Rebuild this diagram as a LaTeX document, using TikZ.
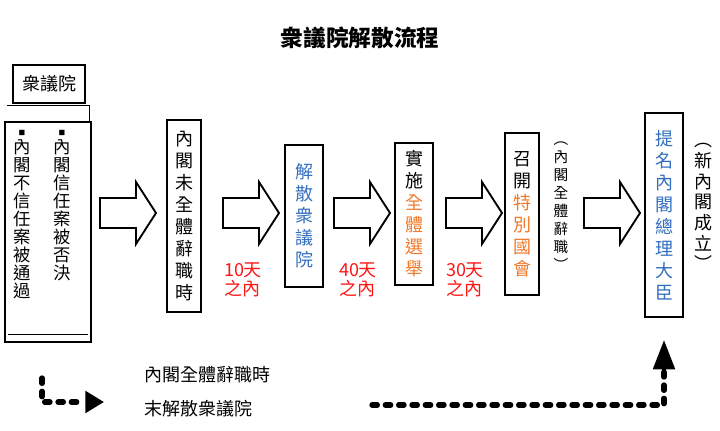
\documentclass[tikz,border=0pt]{standalone}
\usepackage{fontspec}
\setmainfont{Noto Sans CJK TC}
\usetikzlibrary{arrows.meta}
\definecolor{flowred}{RGB}{255,20,20}
\definecolor{flowblue}{RGB}{50,110,190}
\definecolor{floworange}{RGB}{240,120,40}
\tikzset{
  stagebox/.style={draw, line width=1.6pt, minimum width=#1, inner sep=0pt,
    align=center, font=\fontsize{13.5}{16.5}\selectfont},
  daylabel/.style={text=flowred, align=left, font=\fontsize{13.5}{14}\selectfont},
  sidenote/.style={align=center, font=\fontsize{11}{13.5}\selectfont},
  dotline/.style={line width=4pt, dash pattern=on 4pt off 6pt, line cap=round}
}
% block arrow pointing right, x = left edge of the shaft
\newcommand{\blockarrow}[1]{%
  \draw[line width=1.4pt, fill=white] (#1,198) -- ++(36,0) -- ++(0,-16) -- ++(20,31)
    -- ++(-20,31) -- ++(0,-16) -- ++(-36,0) -- cycle;}
\begin{document}
\begin{tikzpicture}[x=0.75pt, y=-0.75pt]
  \useasboundingbox (0,0) rectangle (720,431);

  % title
  \node[font=\bfseries\fontsize{17}{20}\selectfont] (title) at (360,38) {衆議院解散流程};

  % house of representatives
  \node[draw, line width=1.6pt, minimum width=54pt, minimum height=28pt,
    font=\fontsize{13.5}{15}\selectfont] (house) at (49,84) {衆議院};
  \draw[thin] (7,105) -- (89,105) -- (89,122);
  \draw[line width=1.6pt] (5,122) rectangle (91,342);
  \draw[thin] (8,334) -- (88,334);
  \node[align=center, anchor=north, font=\fontsize{13}{13.5}\selectfont] (cause1) at (22,126)
    {\tiny■\\內\\閣\\不\\信\\任\\案\\被\\通\\過};
  \node[align=center, anchor=north, font=\fontsize{13}{13.5}\selectfont] (cause2) at (62,126)
    {\tiny■\\內\\閣\\信\\任\\案\\被\\否\\決};

  % stages
  \node[stagebox=26pt, minimum height=144pt] (resign) at (184,216)
    {內\\閣\\未\\全\\體\\辭\\職\\時};
  \node[stagebox=29pt, minimum height=107pt, text=flowblue] (dissolve) at (304,216)
    {解\\散\\衆\\議\\院};
  \node[stagebox=28pt, minimum height=107pt] (election) at (414,214)
    {實\\施\\\textcolor{floworange}{全}\\\textcolor{floworange}{體}\\\textcolor{floworange}{選}\\\textcolor{floworange}{舉}};
  \node[stagebox=26pt, minimum height=122pt] (diet) at (522,214)
    {召\\開\\\textcolor{floworange}{特}\\\textcolor{floworange}{別}\\\textcolor{floworange}{國}\\\textcolor{floworange}{會}};
  \node[stagebox=29pt, minimum height=153pt, text=flowblue] (nominate) at (664,215)
    {提\\名\\內\\閣\\總\\理\\大\\臣};

  % side notes
  \node[sidenote] (note1) at (561,206) {︵\\內\\閣\\全\\體\\辭\\職\\︶};
  \node[sidenote, font=\fontsize{13.5}{15.5}\selectfont] (note2) at (703,207) {︵\\新\\內\\閣\\成\\立\\︶};

  % time limits
  \node[daylabel] (d10) at (243,280) {10天\\之內};
  \node[daylabel] (d40) at (358,280) {40天\\之內};
  \node[daylabel] (d30) at (465,280) {30天\\之內};

  % block arrows
  \blockarrow{100}
  \blockarrow{223}
  \blockarrow{334}
  \blockarrow{446}
  \blockarrow{584}

  % legend
  \node[anchor=west, font=\fontsize{13.5}{15}\selectfont] (legend1) at (140,375) {內閣全體辭職時};
  \node[anchor=west, font=\fontsize{13.5}{15}\selectfont] (legend2) at (140,409) {末解散衆議院};
  \draw[dotline] (42,378) -- (42,402) -- (84,402);
  \draw[-{Triangle[length=14pt, width=16pt]}, line width=3.2pt] (86,402) -- (104,402);
  \coordinate (dotstart) at (372,405);
  \draw[dotline] (dotstart) -- (664,405) -- (664,372);
  \draw[-{Triangle[length=22pt, width=16pt]}, line width=3.2pt] (664,374) -- (nominate.south |- 0,340);
\end{tikzpicture}
\end{document}
